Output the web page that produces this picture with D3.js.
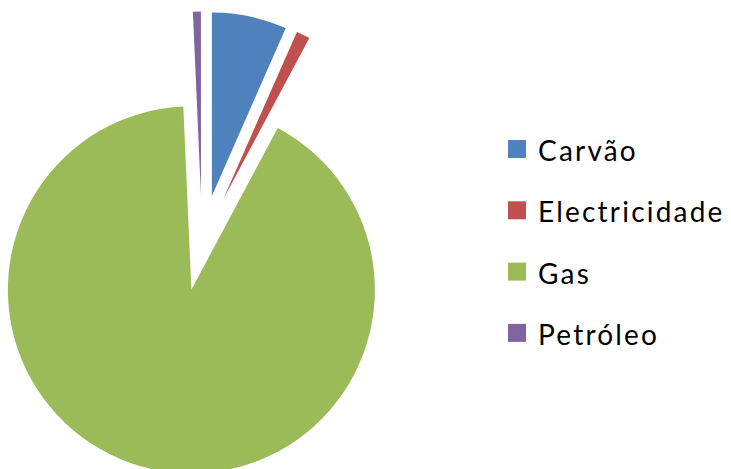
<!DOCTYPE html>
<html>
<head>
<meta charset="utf-8">
<script src="https://cdn.jsdelivr.net/npm/d3@7"></script>
<style>
  html, body { margin: 0; padding: 0; background: #ffffff; }
  svg { display: block; }
  .legend text { font-family: Lato, "Open Sans", sans-serif; font-size: 28px; fill: #000; }
</style>
</head>
<body>
<svg id="chart" width="731" height="469"></svg>
<script>
// Energy source shares (%)
const categories = ["Carvão", "Electricidade", "Gas", "Petróleo"];
const values = [6.6, 1.2, 91.5, 0.7];
const colors = ["#4F81BD", "#C0504D", "#9BBB59", "#8064A2"];

const svg = d3.select("#chart");
const cx = 202, cy = 243, radius = 183.5, explode = 48;

const pie = d3.pie().sort(null).value(d => d.value);
const arc = d3.arc().innerRadius(0).outerRadius(radius);
const data = categories.map((c, i) => ({ name: c, value: values[i], color: colors[i] }));

const g = svg.append("g").attr("transform", `translate(${cx},${cy})`);
g.selectAll("path")
  .data(pie(data))
  .join("path")
  .attr("d", arc)
  .attr("fill", d => d.data.color)
  .attr("transform", d => {
    const mid = (d.startAngle + d.endAngle) / 2;
    return `translate(${explode * Math.sin(mid)},${-explode * Math.cos(mid)})`;
  });

// Legend
const legend = svg.append("g").attr("class", "legend");
const rows = legend.selectAll("g")
  .data(data)
  .join("g")
  .attr("transform", (d, i) => `translate(508,${140 + i * 61.3})`);
rows.append("rect")
  .attr("width", 18).attr("height", 18)
  .attr("fill", d => d.color);
rows.append("text")
  .attr("x", 30).attr("y", 21)
  .attr("letter-spacing", "2.2px")
  .text(d => d.name);
</script>
</body>
</html>
